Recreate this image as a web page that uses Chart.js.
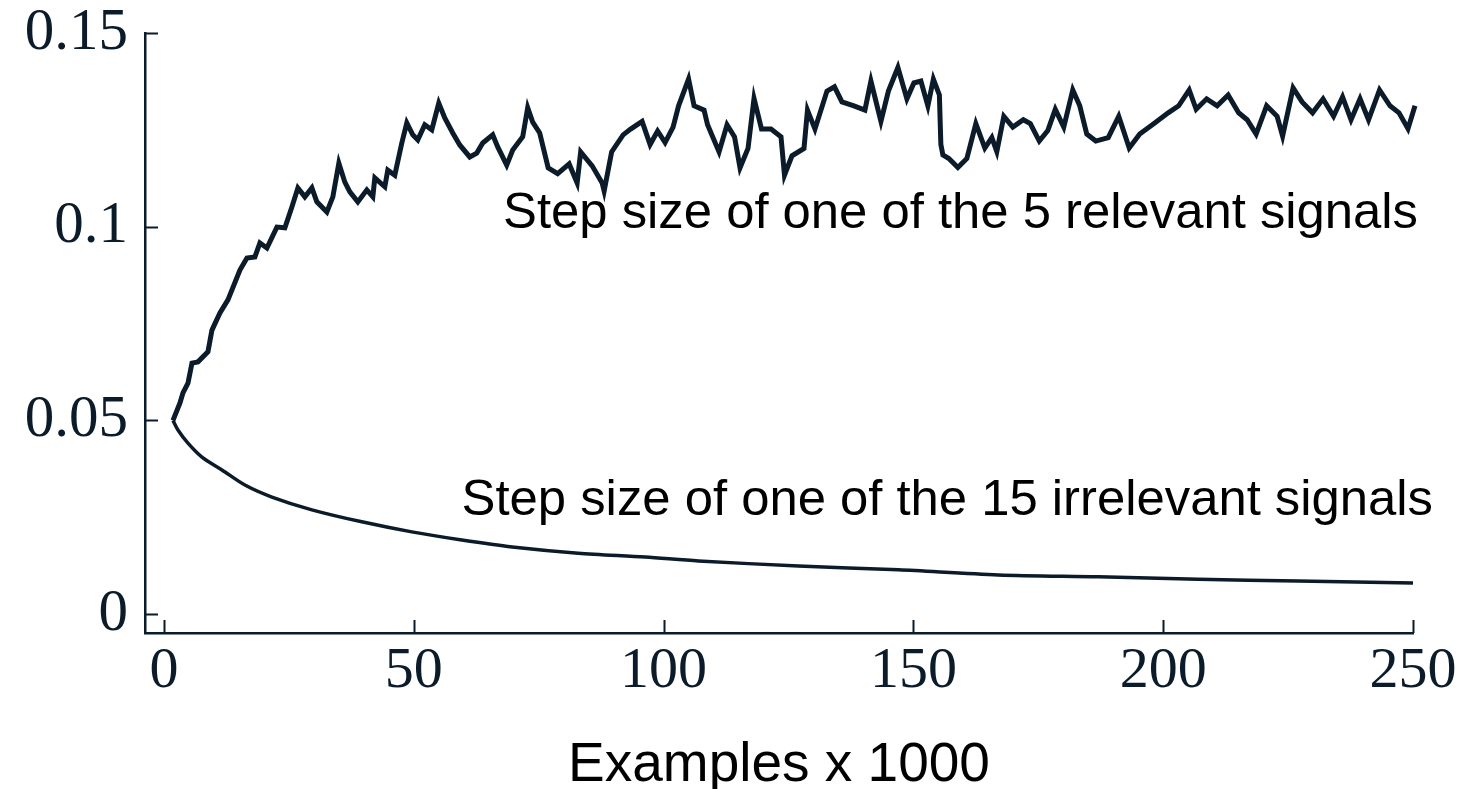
<!DOCTYPE html>
<html>
<head>
<meta charset="utf-8">
<title>Step sizes</title>
<script src="https://cdn.jsdelivr.net/npm/chart.js@4.4.1/dist/chart.umd.min.js"></script>
<style>
  html, body { margin: 0; padding: 0; background: #fff; }
  #mycanvas { display: block; }
</style>
</head>
<body>
<canvas id="mycanvas" width="1460" height="789"></canvas>
<script>
// step size of one of the 5 relevant signals
var relevantX = [1.8, 3.2, 3.8, 4.8, 5.6, 6.8, 8.8, 9.6, 11.2, 12.8, 15.2, 16.6, 18.2, 19.2, 20.6, 22.6, 24.2, 25.6, 26.8, 28.2,
  29.6, 30.6, 32.6, 33.8, 35.0, 36.2, 37.2, 38.8, 40.6, 41.8, 42.2, 44.2, 44.8, 46.2, 47.6, 48.6, 49.8, 50.8, 52.2, 53.6,
  55.0, 56.2, 57.8, 59.2, 61.2, 62.6, 63.8, 65.8, 66.8, 68.6, 69.8, 71.8, 72.8, 73.8, 75.2, 76.9, 78.8, 81.1, 82.7, 83.4,
  85.7, 87.7, 88.1, 89.6, 91.9, 93.4, 95.7, 97.3, 98.8, 100.3, 101.9, 103.0, 105.0, 106.1, 108.1, 108.8, 111.1, 112.7, 114.2, 115.3,
  116.9, 118.1, 119.6, 121.5, 123.5, 124.2, 125.7, 128.1, 128.8, 130.3, 132.7, 134.2, 135.7, 138.1, 140.3, 141.5, 143.5, 145.0, 146.9, 148.7,
  150.1, 151.5, 152.9, 154.0, 155.2, 155.5, 155.9, 157.1, 158.9, 160.7, 162.5, 164.3, 165.7, 166.7, 168.1, 169.9, 172.0, 173.4, 175.2, 176.9,
  178.4, 180.1, 181.9, 183.3, 184.7, 186.5, 189.0, 191.1, 193.2, 195.3, 198.1, 201.0, 203.1, 205.2, 206.6, 208.7, 210.8, 213.0, 215.1, 216.8,
  218.6, 220.7, 222.8, 223.9, 226.0, 227.8, 229.9, 232.0, 234.1, 235.9, 237.6, 239.4, 241.1, 243.3, 245.4, 247.2, 249.0, 250.4, 251.7];
var relevantY = [0.0500, 0.0545, 0.0571, 0.0596, 0.0648, 0.0651, 0.0677, 0.0733, 0.0777, 0.0811, 0.0888, 0.0919, 0.0922, 0.0958, 0.0945, 0.0999, 0.0997, 0.1051, 0.1100, 0.1077,
  0.1100, 0.1064, 0.1038, 0.1077, 0.1164, 0.1115, 0.1090, 0.1064, 0.1095, 0.1077, 0.1126, 0.1103, 0.1146, 0.1133, 0.1216, 0.1268, 0.1237, 0.1224, 0.1263, 0.1250,
  0.1319, 0.1281, 0.1242, 0.1211, 0.1180, 0.1190, 0.1216, 0.1237, 0.1206, 0.1159, 0.1198, 0.1232, 0.1307, 0.1270, 0.1242, 0.1152, 0.1137, 0.1162, 0.1113, 0.1193,
  0.1157, 0.1113, 0.1092, 0.1193, 0.1237, 0.1252, 0.1272, 0.1212, 0.1247, 0.1217, 0.1257, 0.1312, 0.1381, 0.1312, 0.1301, 0.1263, 0.1193, 0.1263, 0.1232, 0.1152,
  0.1202, 0.1331, 0.1252, 0.1252, 0.1232, 0.1133, 0.1183, 0.1202, 0.1301, 0.1252, 0.1350, 0.1361, 0.1322, 0.1312, 0.1301, 0.1376, 0.1272, 0.1350, 0.1411, 0.1330,
  0.1371, 0.1376, 0.1312, 0.1381, 0.1340, 0.1212, 0.1185, 0.1176, 0.1153, 0.1176, 0.1266, 0.1203, 0.1230, 0.1194, 0.1285, 0.1257, 0.1276, 0.1266, 0.1221, 0.1248,
  0.1303, 0.1257, 0.1353, 0.1312, 0.1239, 0.1221, 0.1230, 0.1285, 0.1203, 0.1239, 0.1266, 0.1294, 0.1312, 0.1353, 0.1303, 0.1330, 0.1312, 0.1340, 0.1294, 0.1276,
  0.1239, 0.1312, 0.1285, 0.1234, 0.1358, 0.1322, 0.1294, 0.1330, 0.1285, 0.1335, 0.1276, 0.1330, 0.1276, 0.1353, 0.1312, 0.1294, 0.1253, 0.1312, 0.1358];

// step size of one of the 15 irrelevant signals
var irrelevantX = [1.8, 2.8, 4.8, 7.6, 11.6, 16.2, 21.6, 29.6, 39.6, 49.6, 59.6, 69.7, 82.9, 96.3, 107, 127, 147, 167, 187, 207, 227, 250];
var irrelevantY = [0.0500, 0.0475, 0.0441, 0.0405, 0.0372, 0.0333, 0.0302, 0.0269, 0.0238, 0.0212, 0.0191, 0.0173, 0.0157, 0.0147, 0.0137, 0.0124, 0.0114, 0.0101, 0.0096, 0.0090, 0.0085, 0.0080];

var xTicks = [0, 50, 100, 150, 200, 250];
var yTicks = [0, 0.05, 0.1, 0.15];
var yTickLabels = ['0', '0.05', '0.1', '0.15'];

var labelTexts = ['Step size of one of the 5 relevant signals', 'Step size of one of the 15 irrelevant signals'];

var ink = '#0b1b29';

function toPoints(xs, ys) {
  var pts = [];
  for (var i = 0; i < xs.length; i++) {
    pts.push({x: xs[i], y: ys[i]});
  }
  return pts;
}

// tick marks point into the plot, so draw them ourselves
var insideTicks = {
  id: 'insideTicks',
  afterDraw: function(chart) {
    var ctx = chart.ctx;
    var xs = chart.scales.x, ys = chart.scales.y;
    var len = 13;
    ctx.save();
    ctx.strokeStyle = ink;
    ctx.lineWidth = 2;
    xTicks.forEach(function(v) {
      var px = Math.round(xs.getPixelForValue(v)) + 0.5;
      ctx.beginPath();
      ctx.moveTo(px, ys.bottom);
      ctx.lineTo(px, ys.bottom - len);
      ctx.stroke();
    });
    yTicks.forEach(function(v) {
      var py = Math.round(ys.getPixelForValue(v)) + 0.5;
      ctx.beginPath();
      ctx.moveTo(xs.left, py);
      ctx.lineTo(xs.left + len, py);
      ctx.stroke();
    });
    ctx.restore();
  }
};

// the two text labels next to the curves
var curveLabels = {
  id: 'curveLabels',
  afterDatasetsDraw: function(chart) {
    var ctx = chart.ctx;
    var xs = chart.scales.x, ys = chart.scales.y;
    var anchors = [[251.0, 0.0997], [254.0, 0.0256]];
    ctx.save();
    ctx.fillStyle = '#000';
    ctx.font = '50.8px "Liberation Sans", Arial, sans-serif';
    ctx.textAlign = 'right';
    ctx.textBaseline = 'alphabetic';
    for (var i = 0; i < labelTexts.length; i++) {
      ctx.fillText(labelTexts[i], xs.getPixelForValue(anchors[i][0]), ys.getPixelForValue(anchors[i][1]));
    }
    ctx.restore();
  }
};

var chartdata = {
  datasets: [
    {
      label: 'relevant',
      data: toPoints(relevantX, relevantY),
      borderColor: ink,
      borderWidth: 5,
      borderJoinStyle: 'miter',
      pointRadius: 0,
      tension: 0,
      clip: false
    },
    {
      label: 'irrelevant',
      data: toPoints(irrelevantX, irrelevantY),
      borderColor: ink,
      borderWidth: 3.5,
      pointRadius: 0,
      tension: 0.3,
      clip: false
    }
  ]
};

var serif = '"Liberation Serif", "Times New Roman", serif';

var ctx = document.getElementById('mycanvas');
var lineGraph = new Chart(ctx, {
  type: 'line',
  data: chartdata,
  plugins: [insideTicks, curveLabels],
  options: {
    responsive: false,
    animation: false,
    devicePixelRatio: 1,
    layout: { padding: { top: 33, right: 47, bottom: 0, left: 0 } },
    plugins: {
      legend: { display: false },
      tooltip: { enabled: false }
    },
    scales: {
      x: {
        type: 'linear',
        min: -3.8,
        max: 250,
        afterBuildTicks: function(scale) {
          scale.ticks = xTicks.map(function(v) { return {value: v}; });
        },
        afterFit: function(scale) { scale.height = 156; },
        grid: { display: false, drawTicks: false },
        border: { display: true, color: ink, width: 2.5 },
        ticks: {
          color: ink,
          padding: 0,
          maxRotation: 0,
          autoSkip: false,
          font: { family: serif, size: 58, lineHeight: 1.34 },
          callback: function(v) { return String(v); }
        },
        title: {
          display: true,
          text: 'Examples x 1000',
          color: '#000',
          padding: { top: 0, bottom: -4 },
          font: { family: '"Liberation Sans", Arial, sans-serif', size: 55, lineHeight: 1 }
        }
      },
      y: {
        type: 'linear',
        min: -0.0049,
        max: 0.15,
        afterBuildTicks: function(scale) {
          scale.ticks = yTicks.map(function(v) { return {value: v}; });
        },
        afterFit: function(scale) { scale.width = 145; },
        grid: { display: false, drawTicks: false },
        border: { display: true, color: ink, width: 2.5 },
        ticks: {
          color: ink,
          padding: 17,
          autoSkip: false,
          font: { family: serif, size: 59, lineHeight: 0.5 },
          callback: function(v, i) { return yTickLabels[i]; }
        }
      }
    }
  }
});
</script>
</body>
</html>
